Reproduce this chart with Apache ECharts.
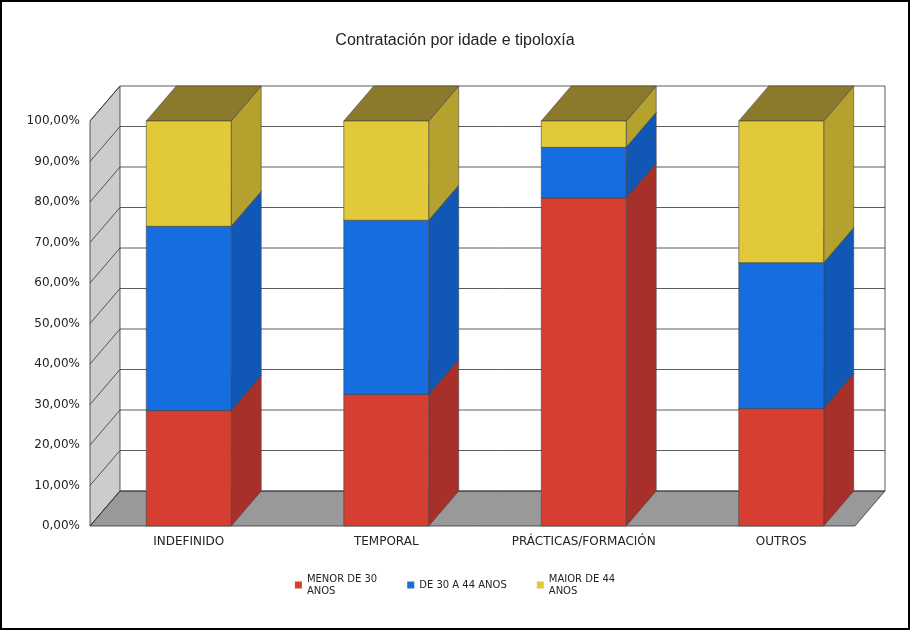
<!DOCTYPE html>
<html lang="en">
<head>
<meta charset="UTF-8">
<title>Contratación por idade e tipoloxía</title>
<script src="https://cdn.jsdelivr.net/npm/echarts@6/dist/echarts.min.js"></script>
<style>html,body{margin:0;padding:0;background:#fff}</style>
</head>
<body>
<div id="main" style="width:910px;height:630px"></div>
<script type="text/javascript">
var categories = ['INDEFINIDO', 'TEMPORAL', 'PRÁCTICAS/FORMACIÓN', 'OUTROS'];
var menor30 = [28.5, 32.5, 81, 29];
var de30a44 = [45.5, 43, 12.5, 36];
var maior44 = [26, 24.5, 6.5, 35];
var seriesNames = ['MENOR DE 30\nANOS', 'DE 30 A 44 ANOS', 'MAIOR DE 44\nANOS'];

var DX = 30, DY = -35;
var front = ['#d63e32', '#166de0', '#e2c93a'];
var side = ['#a8302a', '#1157b5', '#b5a22e'];
var topc = ['#b8362d', '#1b5fc8', '#8b7a2c'];

function stackSeries(idx, values, bottoms) {
    return {
        name: seriesNames[idx],
        type: 'custom',
        z: 2,
        data: values.map(function (v, i) { return [i, bottoms[i], bottoms[i] + v]; }),
        encode: { x: 0, y: [1, 2] },
        itemStyle: { color: front[idx] },
        renderItem: function (params, api) {
            var c = api.value(0);
            var p0 = api.coord([c, api.value(1)]);
            var p1 = api.coord([c, api.value(2)]);
            var w = api.size([1, 0])[0] * 0.43;
            var x0 = p0[0] - w / 2, x1 = p0[0] + w / 2;
            var yb = p0[1], yt = p1[1];
            var st = { stroke: '#444', lineWidth: 0.6 };
            return {
                type: 'group',
                children: [
                    { type: 'polygon', shape: { points: [[x1, yb], [x1 + DX, yb + DY], [x1 + DX, yt + DY], [x1, yt]] },
                      style: Object.assign({ fill: side[idx] }, st) },
                    { type: 'polygon', shape: { points: [[x0, yt], [x1, yt], [x1 + DX, yt + DY], [x0 + DX, yt + DY]] },
                      style: Object.assign({ fill: topc[idx] }, st) },
                    { type: 'rect', shape: { x: x0, y: yt, width: w, height: yb - yt },
                      style: Object.assign({ fill: front[idx] }, st) }
                ]
            };
        }
    };
}

var b1 = menor30.map(function () { return 0; });
var b2 = menor30.slice();
var b3 = menor30.map(function (v, i) { return v + de30a44[i]; });

var walls = {
    type: 'custom',
    silent: true,
    data: [[0, 0]],
    encode: { x: 0, y: 1 },
    z: 1,
    renderItem: function (params, api) {
        var band = api.size([1, 0])[0];
        var o = api.coord([0, 0]);
        var t = api.coord([0, 100]);
        var xl = o[0] - band / 2, yb = o[1], yt = t[1];
        var xr = xl + 765;
        var kids = [];
        kids.push({ type: 'polygon', shape: { points: [[xl, yb], [xl + DX, yb + DY], [xl + DX, yt + DY], [xl, yt]] },
            style: { fill: '#cccccc', stroke: '#333', lineWidth: 0.8 } });
        kids.push({ type: 'polygon', shape: { points: [[xl, yb], [xr, yb], [xr + DX, yb + DY], [xl + DX, yb + DY]] },
            style: { fill: '#999999', stroke: '#333', lineWidth: 0.8 } });
        for (var v = 0; v <= 100; v += 10) {
            var y = api.coord([0, v])[1];
            kids.push({ type: 'polyline', shape: { points: [[xl, y], [xl + DX, y + DY], [xr + DX, y + DY]] },
                style: { stroke: '#333', lineWidth: 0.8, fill: null } });
        }
        kids.push({ type: 'line', shape: { x1: xr + DX, y1: yb + DY, x2: xr + DX, y2: yt + DY },
            style: { stroke: '#333', lineWidth: 0.8 } });
        return { type: 'group', children: kids };
    }
};

var chart = echarts.init(document.getElementById('main'));
chart.setOption({
    animation: false,
    textStyle: { fontFamily: 'DejaVu Sans' },
    title: { text: 'Contratación por idade e tipoloxía', left: 'center', top: 28,
        textStyle: { fontSize: 16, fontWeight: 'normal', color: '#222', fontFamily: 'Liberation Sans' } },
    grid: { left: 90, right: 30, top: 121, bottom: 104 },
    xAxis: { type: 'category', data: categories,
        axisLine: { show: false }, axisTick: { show: false },
        axisLabel: { color: '#222', fontSize: 12, margin: 10 } },
    yAxis: { type: 'value', min: 0, max: 100, interval: 10,
        axisLine: { show: false }, axisTick: { show: false }, splitLine: { show: false },
        axisLabel: { color: '#222', fontSize: 12, margin: 10,
            formatter: function (v) { return v.toFixed(2).replace('.', ',') + '%'; } } },
    legend: { bottom: 28, left: 'center', itemWidth: 7, itemHeight: 7, itemGap: 30, icon: 'rect',
        data: seriesNames, textStyle: { fontSize: 10, color: '#222', lineHeight: 12 } },
    graphic: [{ type: 'rect', shape: { x: 1, y: 1, width: 908, height: 628 },
        style: { fill: null, stroke: '#000', lineWidth: 2 }, silent: true }],
    series: [walls, stackSeries(0, menor30, b1), stackSeries(1, de30a44, b2), stackSeries(2, maior44, b3)]
});
</script>
</body>
</html>
